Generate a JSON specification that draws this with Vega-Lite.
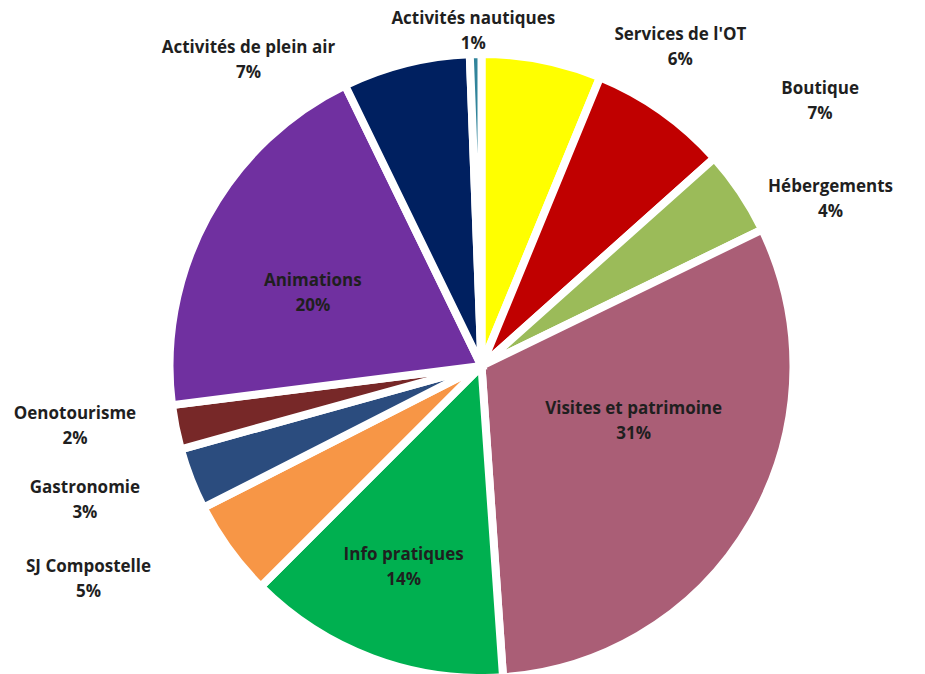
{
  "$schema": "https://vega.github.io/schema/vega-lite/v6.json",
  "width": 887,
  "height": 616,
  "padding": {"left": 38, "top": 58, "right": 0, "bottom": 0},
  "autosize": {"type": "none"},
  "background": "white",
  "config": {
    "view": {"stroke": null},
    "text": {"font": "Open Sans", "fontWeight": "bold", "fontSize": 17, "fill": "#1f1f1f", "lineHeight": 25}
  },
  "data": {
    "values": [
      {"idx": 1, "category": "Services de l'OT", "value": 6.2, "pct": "6%"},
      {"idx": 2, "category": "Boutique", "value": 7.2, "pct": "7%"},
      {"idx": 3, "category": "Hébergements", "value": 4.4, "pct": "4%"},
      {"idx": 4, "category": "Visites et patrimoine", "value": 31.1, "pct": "31%"},
      {"idx": 5, "category": "Info pratiques", "value": 13.6, "pct": "14%"},
      {"idx": 6, "category": "SJ Compostelle", "value": 5.0, "pct": "5%"},
      {"idx": 7, "category": "Gastronomie", "value": 3.2, "pct": "3%"},
      {"idx": 8, "category": "Oenotourisme", "value": 2.3, "pct": "2%"},
      {"idx": 9, "category": "Animations", "value": 19.8, "pct": "20%"},
      {"idx": 10, "category": "Activités de plein air", "value": 6.6, "pct": "7%"},
      {"idx": 11, "category": "Activités nautiques", "value": 0.6, "pct": "1%"}
    ]
  },
  "transform": [{"calculate": "datum.category + '\\n' + datum.pct", "as": "label"}],
  "encoding": {
    "theta": {"field": "value", "type": "quantitative", "stack": true},
    "order": {"field": "idx", "type": "quantitative"}
  },
  "layer": [
    {
      "mark": {"type": "arc", "outerRadius": 312, "stroke": "white", "strokeWidth": 8},
      "encoding": {
        "color": {
          "field": "category",
          "type": "nominal",
          "legend": null,
          "scale": {
            "domain": ["Services de l'OT", "Boutique", "Hébergements", "Visites et patrimoine", "Info pratiques", "SJ Compostelle", "Gastronomie", "Oenotourisme", "Animations", "Activités de plein air", "Activités nautiques"],
            "range": ["#FFFF00", "#C00000", "#9BBB59", "#AA5E76", "#00B050", "#F79646", "#2B4C7E", "#772828", "#7030A0", "#002060", "#31849B"]
          }
        }
      }
    },
    {"mark": {"type": "text", "radius": 330, "dx": 135, "dy": -7, "lineBreak": "\n"}, "encoding": {"text": {"condition": {"test": "datum.idx === 1", "field": "label"}, "value": ""}}},
    {"mark": {"type": "text", "radius": 330, "dx": 148, "dy": -8, "lineBreak": "\n"}, "encoding": {"text": {"condition": {"test": "datum.idx === 2", "field": "label"}, "value": ""}}},
    {"mark": {"type": "text", "radius": 330, "dx": 75, "dy": 5, "lineBreak": "\n"}, "encoding": {"text": {"condition": {"test": "datum.idx === 3", "field": "label"}, "value": ""}}},
    {"mark": {"type": "text", "radius": 185, "dx": -8, "dy": -50, "lineBreak": "\n"}, "encoding": {"text": {"condition": {"test": "datum.idx === 4", "field": "label"}, "value": ""}}},
    {"mark": {"type": "text", "radius": 185, "dx": -13, "dy": 16, "lineBreak": "\n"}, "encoding": {"text": {"condition": {"test": "datum.idx === 5", "field": "label"}, "value": ""}}},
    {"mark": {"type": "text", "radius": 330, "dx": -126, "dy": 7, "lineBreak": "\n"}, "encoding": {"text": {"condition": {"test": "datum.idx === 6", "field": "label"}, "value": ""}}},
    {"mark": {"type": "text", "radius": 330, "dx": -89, "dy": 2, "lineBreak": "\n"}, "encoding": {"text": {"condition": {"test": "datum.idx === 7", "field": "label"}, "value": ""}}},
    {"mark": {"type": "text", "radius": 330, "dx": -83, "dy": -17, "lineBreak": "\n"}, "encoding": {"text": {"condition": {"test": "datum.idx === 8", "field": "label"}, "value": ""}}},
    {"mark": {"type": "text", "radius": 185, "dx": -6, "dy": 3, "lineBreak": "\n"}, "encoding": {"text": {"condition": {"test": "datum.idx === 9", "field": "label"}, "value": ""}}},
    {"mark": {"type": "text", "radius": 330, "dx": -153, "dy": 2, "lineBreak": "\n"}, "encoding": {"text": {"condition": {"test": "datum.idx === 10", "field": "label"}, "value": ""}}},
    {"mark": {"type": "text", "radius": 330, "dx": -2, "dy": -17, "lineBreak": "\n"}, "encoding": {"text": {"condition": {"test": "datum.idx === 11", "field": "label"}, "value": ""}}}
  ]
}
